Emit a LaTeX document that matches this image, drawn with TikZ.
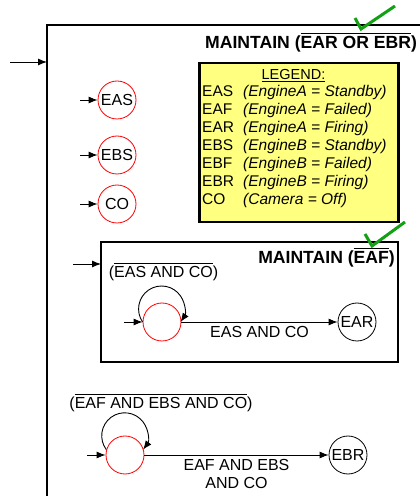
\documentclass[tikz,border=0pt]{standalone}
\usepackage{fontspec}
\setmainfont{Liberation Sans}
\usetikzlibrary{arrows.meta}
\definecolor{legyellow}{RGB}{255,255,128}
\definecolor{checkgreen}{RGB}{20,160,20}
\newsavebox\ovbox
\newcommand{\ovbar}[1]{\sbox\ovbox{#1}\rlap{\rule[\dimexpr\ht\ovbox+3pt\relax]{\wd\ovbox}{1.1pt}}\usebox\ovbox}
\begin{document}
\begin{tikzpicture}[x=1pt,y=1pt,
  arr/.style={-{Latex[length=9pt,width=7pt]}, line width=0.9pt},
  redst/.style={circle, draw=red, line width=0.8pt, minimum size=38pt, inner sep=0pt, font=\fontsize{16}{18}\selectfont},
  blkst/.style={circle, draw=black, line width=0.8pt, minimum size=38pt, inner sep=0pt, font=\fontsize{16}{18}\selectfont},
  titlefont/.style={font=\fontsize{17.6}{20}\selectfont\bfseries, inner sep=0pt},
  lblfont/.style={font=\fontsize{16}{18}\selectfont, inner sep=0pt},
  check/.style={draw=checkgreen, line width=3pt},
  legbox/.style={draw, line width=2.5pt, fill=legyellow, minimum width=199pt, minimum height=159pt, inner sep=0pt}
]
\useasboundingbox (0,0) rectangle (420,496);
% outer box
\begin{scope}
\clip (0,0) rectangle (420,496);
\draw[line width=2pt] (430,471) -- (47,471) -- (47,-10);
\end{scope}
\coordinate (outfree) at (10,434);
\coordinate (outedge) at (47,434);
\draw[arr] (outfree) -- (outedge);
\node[titlefont, anchor=base west] (t1) at (205,447) {MAINTAIN (\ovbar{EAR OR EBR})};
\draw[check] (355,478) -- (361,467) -- (395,490);

% legend
\node[legbox] (leg) at (299,353.5) {};
\node[font=\fontsize{14.5}{16}\selectfont, inner sep=0pt, anchor=base] (legtitle) at (293.5,416) {\underline{LEGEND:}};
\node[font=\fontsize{15.5}{18}\selectfont, inner sep=0pt, anchor=base west] (legrows) at (202,399)
{\begin{tabular}[t]{@{}p{41pt}@{}l@{}}
EAS & \textit{(EngineA = Standby)}\\
EAF & \textit{(EngineA = Failed)}\\
EAR & \textit{(EngineA = Firing)}\\
EBS & \textit{(EngineB = Standby)}\\
EBF & \textit{(EngineB = Failed)}\\
EBR & \textit{(EngineB = Firing)}\\
CO & \textit{(Camera = Off)}
\end{tabular}};

% small state circles
\node[redst] (eas) at (117,396) {EAS};
\node[redst] (ebs) at (117,341) {EBS};
\node[redst] (co) at (117,292) {CO};
\coordinate (easin) at (80,396);
\coordinate (ebsin) at (80,341);
\coordinate (coin) at (80,292);
\draw[arr] (easin) -- (eas);
\draw[arr] (ebsin) -- (ebs);
\draw[arr] (coin) -- (co);

% inner box
\node[draw, line width=1.5pt, minimum width=297pt, minimum height=120pt, inner sep=0pt] (inner) at (249.5,194) {};
\coordinate (innerfree) at (73,232);
\coordinate (inneredge) at (101,232);
\draw[arr] (innerfree) -- (inneredge);
\node[titlefont, anchor=base east] (t2) at (395,232) {MAINTAIN (\ovbar{EAF})};
\draw[check] (365,262) -- (372,250) -- (405,274);

\node[lblfont, anchor=base] (loop1lbl) at (163.5,218) {(\ovbar{EAS AND CO})};
\node[redst] (s1) at (162,174) {};
\node[blkst] (ear) at (357,174) {EAR};
\coordinate (s1in) at (124,174);
\draw[arr] (s1in) -- (s1);
\draw[arr] (s1.180) arc[start angle=214.4, end angle=-34.4, radius=23];
\draw[arr] (s1) -- node[lblfont, below=4pt] {EAS AND CO} (ear);

% bottom
\node[lblfont, anchor=base] (loop2lbl) at (161,87) {(\ovbar{EAF AND EBS AND CO})};
\node[redst] (s2) at (125,41) {};
\node[blkst] (ebr) at (348,41) {EBR};
\coordinate (s2in) at (87,41);
\draw[arr] (s2in) -- (s2);
\draw[arr] (s2.164.5) arc[start angle=217, end angle=-37, radius=23];
\draw[arr] (s2) -- node[lblfont, below=4pt, align=center] {EAF AND EBS\\AND CO} (ebr);
\end{tikzpicture}
\end{document}
